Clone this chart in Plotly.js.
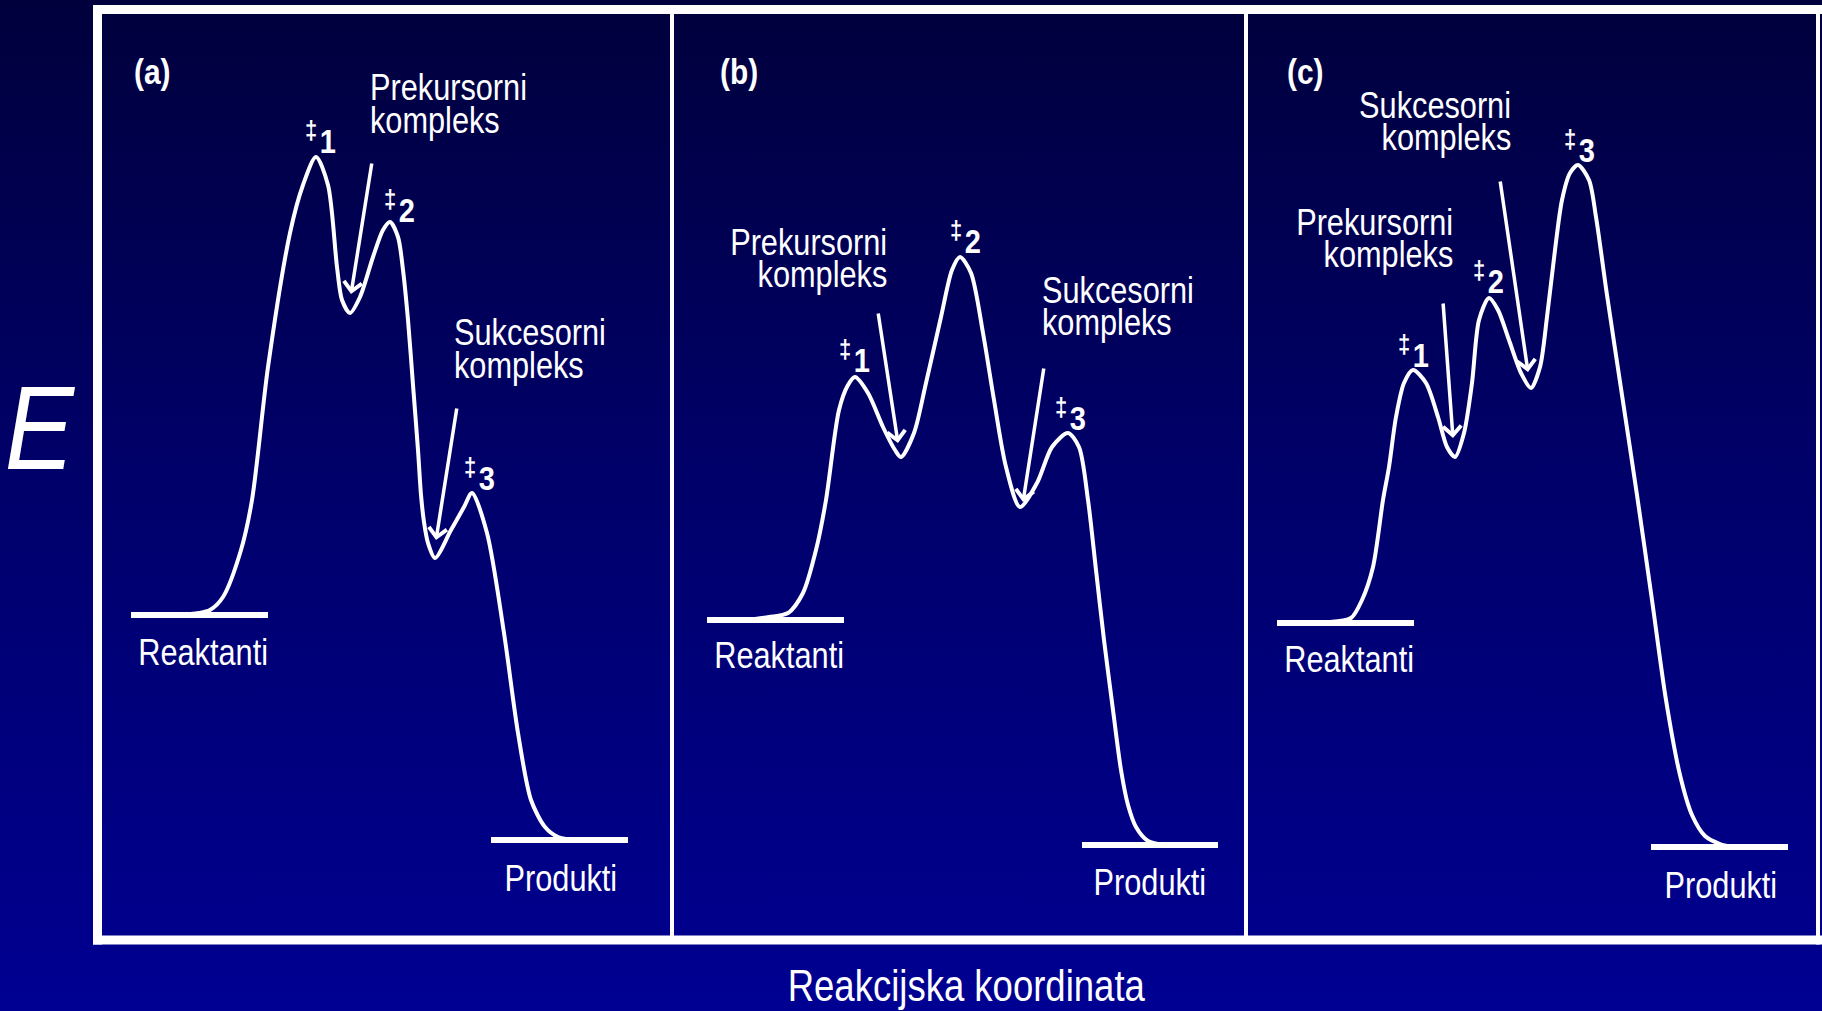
<!DOCTYPE html>
<html><head><meta charset="utf-8">
<script src="https://cdn.plot.ly/plotly-3.0.1.min.js"></script>
<style>
html,body{margin:0;padding:0;width:1822px;height:1011px;overflow:hidden;
background:linear-gradient(to bottom,#00003c 0%,#000068 45%,#000092 100%);}
#chart{width:1822px;height:1011px;}
</style></head><body><div id="chart"></div>
<script>
// ---------------- data (reaction coordinate, energy E in arbitrary units) ----------------
const panelNames = ['(a)', '(b)', '(c)'];
const stateLabels = ['Reaktanti', 'Produkti'];
const complexWords = ['Prekursorni', 'Sukcesorni', 'kompleks'];
const tsNumbers = ['1', '2', '3'];
const axisTitles = ['E', 'Reakcijska koordinata'];

const curveA_x = [7.3, 9.7, 10.8, 12.1, 13.9, 15.0, 16.6, 18.8, 20.1, 21.4, 22.6, 23.5, 24.0, 24.8, 25.8, 27.1, 28.1, 28.8, 29.6, 30.1, 30.6, 31.1, 31.6, 31.9, 32.2, 32.6, 33.3, 34.9, 36.2, 37.0, 38.5, 40.2, 41.6, 42.9, 44.3, 45.6, 47.3];
const curveA_E = [32.1, 32.3, 32.6, 33.9, 38.6, 43.6, 56.9, 70.3, 75.1, 77.9, 75.1, 66.9, 63.6, 62.3, 63.9, 67.9, 70.6, 71.4, 69.9, 66.6, 61.6, 55.1, 48.6, 44.1, 41.4, 39.3, 37.8, 40.6, 42.9, 44.3, 40.3, 30.3, 20.3, 13.6, 10.9, 9.9, 9.6];

const curveB_x = [8.3, 9.7, 11.6, 13.1, 14.4, 15.4, 16.7, 17.6, 18.3, 19.6, 21.1, 22.3, 22.9, 24.2, 25.4, 26.9, 28.0, 28.8, 29.9, 31.1, 32.2, 33.4, 34.8, 36.5, 38.0, 39.6, 40.7, 41.6, 42.4, 43.2, 44.1, 44.9, 45.6, 46.4, 47.6, 49.3];
const curveB_E = [31.7, 31.9, 32.3, 34.3, 38.6, 43.6, 52.6, 55.1, 55.9, 54.3, 50.9, 48.6, 47.9, 50.3, 55.3, 61.9, 66.6, 67.9, 66.3, 60.3, 53.6, 46.9, 42.9, 45.3, 48.9, 50.3, 48.9, 43.6, 36.6, 29.6, 22.6, 16.6, 13.1, 10.9, 9.5, 9.1];

const curveC_x = [8.4, 10.5, 11.6, 12.7, 13.7, 14.3, 15.0, 15.8, 16.7, 18.0, 19.2, 20.1, 20.9, 21.8, 22.6, 23.3, 24.3, 25.2, 26.3, 27.5, 28.5, 29.4, 30.1, 30.9, 31.6, 32.4, 33.2, 34.3, 35.0, 36.1, 37.6, 39.1, 40.6, 42.0, 43.4, 44.6, 45.9, 47.4, 48.6];
const curveC_E = [31.4, 31.8, 33.6, 36.9, 43.6, 46.9, 51.9, 55.3, 56.6, 55.3, 51.9, 48.9, 47.9, 50.3, 55.3, 61.6, 63.8, 62.6, 59.6, 56.3, 54.8, 56.9, 61.9, 68.6, 73.6, 76.3, 77.1, 75.6, 71.9, 64.1, 54.1, 44.1, 33.6, 23.6, 16.1, 12.1, 10.0, 9.2, 8.9];

const reactantE = [32.1, 31.6, 31.3];
const reactantX0 = [2.9, 3.5, 3.1];
const reactantX1 = [16.6, 17.2, 16.8];
const productE = [9.6, 9.1, 8.9];
const productX0 = [38.9, 41.0, 40.5];
const productX1 = [52.6, 54.6, 54.2];

// arrows to the precursor / successor complexes: [tailX, tailE, tipX, tipE]
const precursorArrow = [[27.0, 77.4, 24.9, 64.2], [20.6, 62.4, 22.6, 49.3], [19.7, 63.4, 20.7, 49.8]];
const successorArrow = [[35.5, 52.9, 33.4, 39.6], [37.2, 56.9, 35.1, 43.4], [25.4, 75.6, 28.2, 56.4]];

// ---------------- drawing ----------------
const W = 1822, H = 1011;
const FONT = '"Liberation Sans", Arial, Helvetica, sans-serif';
const SQUASH = 0.83;   // the original lettering is a narrow Helvetica
const WHITE = '#ffffff';
const curvesX = [curveA_x, curveB_x, curveC_x];
const curvesE = [curveA_E, curveB_E, curveC_E];
const xr = ['x', 'x2', 'x3'];

const traces = [];
for (let i = 0; i < 3; i++) {
  traces.push({type: 'scatter', mode: 'lines', x: curvesX[i], y: curvesE[i], xaxis: xr[i], yaxis: 'y',
    line: {color: WHITE, width: 4, shape: 'spline', smoothing: 0.8}, hoverinfo: 'skip', showlegend: false});
  traces.push({type: 'scatter', mode: 'lines', x: [reactantX0[i], reactantX1[i]], y: [reactantE[i], reactantE[i]],
    xaxis: xr[i], yaxis: 'y', line: {color: WHITE, width: 6}, hoverinfo: 'skip', showlegend: false});
  traces.push({type: 'scatter', mode: 'lines', x: [productX0[i], productX1[i]], y: [productE[i], productE[i]],
    xaxis: xr[i], yaxis: 'y', line: {color: WHITE, width: 6}, hoverinfo: 'skip', showlegend: false});
}

const ann = [];
function txt(i, text, x, y, xanchor, size, bold, squash) {
  ann.push({xref: xr[i], yref: 'y', x: x, y: y, text: text, showarrow: false, xanchor: xanchor, yanchor: 'bottom',
    font: {family: FONT, size: size, color: WHITE, weight: bold ? 'bold' : 'normal'}, squash: squash || SQUASH});
}
function ts(i, n, x, y) {
  txt(i, '<sup><span style="font-size:25px">‡</span></sup>\u200A' + tsNumbers[n], x, y, 'left', 33, true, 0.88);
}
function arrow(i, a) {
  ann.push({xref: xr[i], yref: 'y', axref: xr[i], ayref: 'y', x: a[2], y: a[3], ax: a[0], ay: a[1], text: '',
    showarrow: true, arrowhead: 4, arrowsize: 1, arrowwidth: 3.5, arrowcolor: WHITE, standoff: 0});
}

// panel (a)
txt(0, panelNames[0], 3.0, 84.2, 'left', 36, true);
txt(0, complexWords[0], 26.6, 82.6, 'left', 37);
txt(0, complexWords[2], 26.6, 79.3, 'left', 37);
txt(0, complexWords[1], 35.0, 58.1, 'left', 37);
txt(0, complexWords[2], 35.0, 54.8, 'left', 37);
ts(0, 0, 20.1, 77.4); ts(0, 1, 28.0, 70.5); ts(0, 2, 36.0, 43.7);
txt(0, stateLabels[0], 10.1, 26.1, 'center', 37);
txt(0, stateLabels[1], 45.9, 3.5, 'center', 37);
// panel (b)
txt(1, panelNames[1], 4.6, 84.2, 'left', 36, true);
txt(1, complexWords[0], 21.7, 67.1, 'right', 37);
txt(1, complexWords[2], 21.7, 63.9, 'right', 37);
txt(1, complexWords[1], 36.8, 62.3, 'left', 37);
txt(1, complexWords[2], 36.8, 59.1, 'left', 37);
ts(1, 0, 16.5, 55.5); ts(1, 1, 27.6, 67.4); ts(1, 2, 38.1, 49.7);
txt(1, stateLabels[0], 10.7, 25.8, 'center', 37);
txt(1, stateLabels[1], 47.8, 3.1, 'center', 37);
// panel (c)
txt(2, panelNames[2], 3.9, 84.2, 'left', 36, true);
txt(2, complexWords[1], 26.7, 80.8, 'right', 37);
txt(2, complexWords[2], 26.7, 77.6, 'right', 37);
txt(2, complexWords[0], 20.9, 69.1, 'right', 37);
txt(2, complexWords[2], 20.9, 65.9, 'right', 37);
ts(2, 0, 15.0, 56.0); ts(2, 1, 22.5, 63.4); ts(2, 2, 31.6, 76.5);
txt(2, stateLabels[0], 10.3, 25.4, 'center', 37);
txt(2, stateLabels[1], 47.5, 2.8, 'center', 37);

for (let i = 0; i < 3; i++) { arrow(i, precursorArrow[i]); arrow(i, successorArrow[i]); }

// axis titles
ann.push({xref: 'paper', yref: 'paper', x: 40 / W, y: (H - 428) / H, text: axisTitles[0], showarrow: false,
  xanchor: 'center', yanchor: 'middle', font: {family: FONT, size: 118, color: WHITE, style: 'italic'}, squash: 0.88});
ann.push({xref: 'paper', yref: 'paper', x: 966 / W, y: (H - 985) / H, text: axisTitles[1], showarrow: false,
  xanchor: 'center', yanchor: 'middle', font: {family: FONT, size: 44, color: WHITE}, squash: SQUASH});

// frame
const px = v => v / W, py = v => (H - v) / H;
const shapes = [
  {type: 'line', xref: 'paper', yref: 'paper', x0: px(93), x1: px(1822), y0: py(9.5), y1: py(9.5), line: {color: WHITE, width: 9}},
  {type: 'line', xref: 'paper', yref: 'paper', x0: px(93), x1: px(1822), y0: py(940), y1: py(940), line: {color: WHITE, width: 9}},
  {type: 'line', xref: 'paper', yref: 'paper', x0: px(97.5), x1: px(97.5), y0: py(5), y1: py(944.5), line: {color: WHITE, width: 9}},
  {type: 'line', xref: 'paper', yref: 'paper', x0: px(1818), x1: px(1818), y0: py(5), y1: py(944.5), line: {color: WHITE, width: 4}},
  {type: 'line', xref: 'paper', yref: 'paper', x0: px(672), x1: px(672), y0: py(12), y1: py(938), line: {color: WHITE, width: 4}},
  {type: 'line', xref: 'paper', yref: 'paper', x0: px(1246), x1: px(1246), y0: py(12), y1: py(938), line: {color: WHITE, width: 4}}
];

function xa(l, r) { return {domain: [px(l), px(r)], range: [0, (r - l) / 10], visible: false, fixedrange: true, anchor: 'y'}; }
const layout = {
  width: W, height: H, margin: {l: 0, r: 0, t: 0, b: 0, pad: 0},
  paper_bgcolor: 'rgba(0,0,0,0)', plot_bgcolor: 'rgba(0,0,0,0)',
  showlegend: false, hovermode: false,
  xaxis: xa(102, 672), xaxis2: xa(672, 1246), xaxis3: xa(1246, 1818),
  yaxis: {domain: [py(936), py(14)], range: [0, 92.2], visible: false, fixedrange: true, anchor: 'x'},
  annotations: ann, shapes: shapes
};
Plotly.newPlot('chart', traces, layout, {displayModeBar: false, staticPlot: true}).then(gd => {
  // narrow the lettering horizontally about each label's anchor point
  gd.querySelectorAll('g.annotation').forEach(g => {
    const a = ann[+g.getAttribute('data-index')];
    const t = g.querySelector('text.annotation-text');
    if (!a || !t || !a.text || !a.squash) return;
    const b = t.getBBox();
    const ax = a.xanchor === 'left' ? b.x : a.xanchor === 'right' ? b.x + b.width : b.x + b.width / 2;
    t.setAttribute('transform', 'translate(' + ax + ',0) scale(' + a.squash + ',1) translate(' + (-ax) + ',0)');
  });
});
</script></body></html>
